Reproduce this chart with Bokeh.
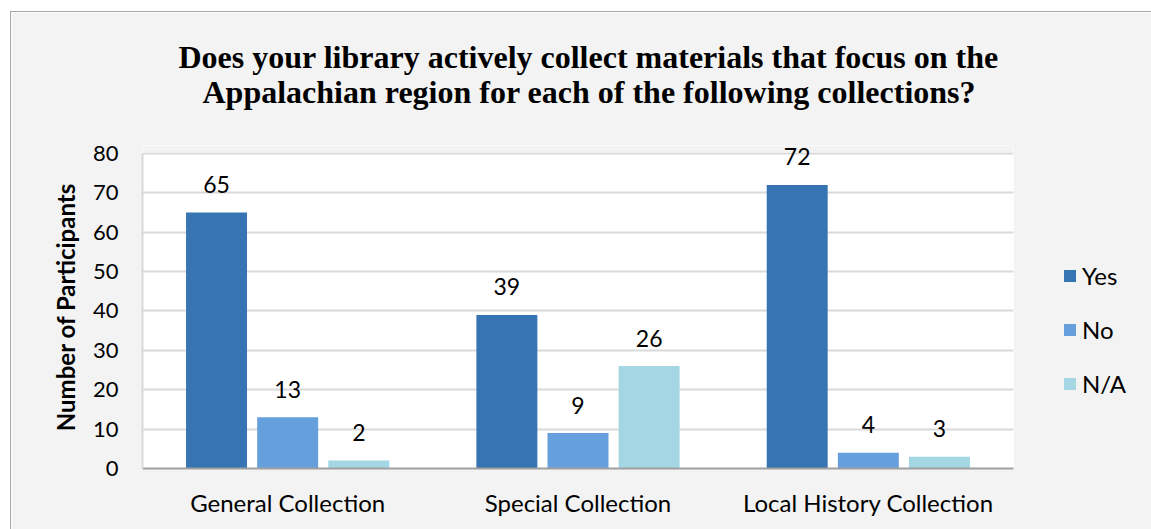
from bokeh.plotting import figure
from bokeh.models import (ColumnDataSource, Range1d, FactorRange, Legend, LegendItem, Title,
                          BoxAnnotation)
from bokeh.transform import dodge
from bokeh.core.properties import value
from bokeh.embed import file_html
from bokeh.resources import INLINE

categories = ["General Collection", "Special Collection", "Local History Collection"]
series = ["Yes", "No", "N/A"]
yes_vals = [65, 39, 72]
no_vals = [13, 9, 4]
na_vals = [2, 26, 3]
colors = ["#3674b3", "#659fdc", "#a5d6e4"]
y_ticks = [0, 10, 20, 30, 40, 50, 60, 70, 80]
title_lines = ["Does your library actively collect materials that focus on the",
               "Appalachian region for each of the following collections?"]

src = ColumnDataSource(dict(cat=categories, yes=yes_vals, no=no_vals, na=na_vals,
                            yes_t=[str(v) for v in yes_vals],
                            no_t=[str(v) for v in no_vals],
                            na_t=[str(v) for v in na_vals]))

FONT = "Lato"
BG = "#f3f3f3"
p = figure(x_range=FactorRange(*categories, range_padding=0), y_range=Range1d(0, 82),
           frame_width=871, frame_height=323, output_backend="svg", toolbar_location=None,
           min_border_left=131, min_border_right=138, min_border_bottom=61, min_border_top=133,
           background_fill_color="white", border_fill_color=BG,
           styles={"margin-left": "10px", "margin-top": "11px",
                   "border-left": "1px solid #a6a6a6", "border-top": "1px solid #a6a6a6"})
p.title = None
# spacer between frame and title lines
p.add_layout(Title(text=" ", text_font="Liberation Serif", text_font_size="32px",
                   text_line_height=0.9, standoff=-2), "above")
for line, off, so in zip(reversed(title_lines), [60, 36], [0, -6]):
    t = Title(text=line, align="left", text_font="Liberation Serif", text_font_style="bold",
              text_font_size="32px", text_color="black", offset=off, text_line_height=0.9,
              standoff=so)
    p.add_layout(t, "above")

# chart-area band above the top gridline in the surrounding colour
p.add_layout(BoxAnnotation(bottom=80.25, fill_color=BG, fill_alpha=1, line_color=None,
                           level="underlay"))

offsets = [-0.245, 0.0, 0.245]
fields = ["yes", "no", "na"]
renderers = []
for f, off, c in zip(fields, offsets, colors):
    r = p.vbar(x=dodge("cat", off, range=p.x_range), top=f, width=0.21, source=src,
               fill_color=c, line_color=None)
    renderers.append(r)
    p.text(x=dodge("cat", off, range=p.x_range), y=f, text=f + "_t", source=src,
           text_align="center", text_baseline="alphabetic", y_offset=-28,
           text_font=value(FONT), text_font_size="23px", text_color="black")

legend = Legend(items=[LegendItem(label=s, renderers=[r]) for s, r in zip(series, renderers)],
                location=(49, 70), orientation="vertical",
                glyph_width=15, glyph_height=15, spacing=25,
                label_text_font=FONT, label_text_font_size="24px", label_text_color="black",
                background_fill_alpha=0, border_line_color=None, padding=0, margin=0,
                label_standoff=5)
p.add_layout(legend, "right")

p.yaxis.ticker = y_ticks
p.yaxis.bounds = (0, 80)
p.yaxis.axis_label = "Number of Participants"
p.yaxis.axis_label_text_font = FONT
p.yaxis.axis_label_text_font_style = "bold"
p.yaxis.axis_label_text_font_size = "24px"
p.yaxis.axis_label_text_color = "black"
p.yaxis.axis_label_standoff = 10
p.yaxis.major_label_text_font = FONT
p.yaxis.major_label_text_font_size = "22px"
p.yaxis.major_label_text_color = "black"
p.yaxis.major_label_standoff = 24
p.yaxis.axis_line_color = "#d9d9d9"
p.yaxis.axis_line_width = 2
p.yaxis.major_tick_line_color = None
p.yaxis.minor_tick_line_color = None
p.yaxis.major_tick_out = 0
p.yaxis.major_tick_in = 0

p.xaxis.major_label_text_font = FONT
p.xaxis.major_label_text_font_size = "24px"
p.xaxis.major_label_text_color = "black"
p.xaxis.major_label_standoff = 19
p.xaxis.axis_line_color = "#a0a0a0"
p.xaxis.axis_line_width = 2
p.xaxis.major_tick_line_color = None
p.xaxis.minor_tick_line_color = None
p.xaxis.major_tick_out = 0
p.xaxis.major_tick_in = 0

p.xgrid.grid_line_color = None
p.ygrid.grid_line_color = "#d9d9d9"
p.ygrid.grid_line_width = 2
p.outline_line_color = None

open("out.html", "w").write(file_html(p, INLINE))
